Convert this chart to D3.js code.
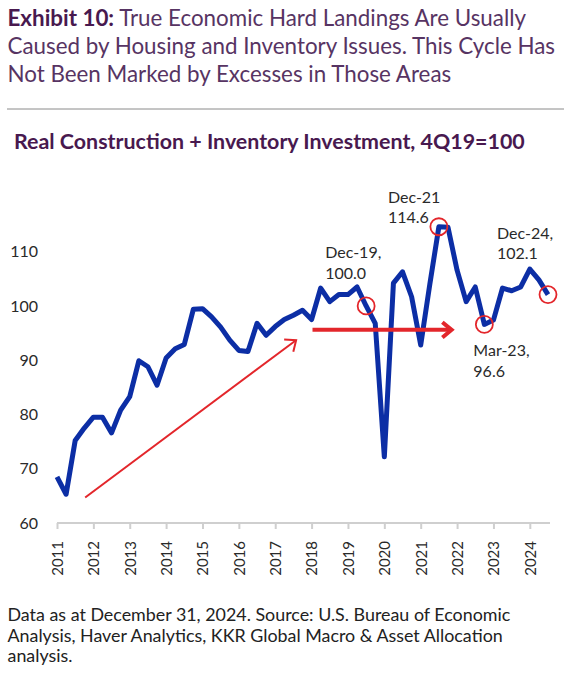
<!DOCTYPE html>
<html>
<head>
<meta charset="utf-8">
<script src="https://cdn.jsdelivr.net/npm/d3@7"></script>
<style>
  html, body { margin: 0; padding: 0; background: #fff; }
  svg { display: block; }
  text { font-family: Lato, "Open Sans", sans-serif; }
</style>
</head>
<body>
<svg id="chart" width="575" height="680"></svg>
<script>
// ---------- DATA ----------
const startYear = 2011, startQuarter = 2; // first observation: 2Q11
const values = [
  68.5, 65.3, 75.2, 77.5, 79.5, 79.5, 76.6, 80.8, 83.3, 89.9,
  88.8, 85.4, 90.4, 92.1, 92.9, 99.4, 99.5, 98.0, 96.1, 93.7,
  91.8, 91.6, 96.8, 94.6, 96.2, 97.5, 98.3, 99.2, 97.5, 103.3,
  100.8, 102.1, 102.1, 103.5, 100.0, 96.8, 72.2, 104.2, 106.3, 101.7,
  92.8, 104.0, 114.6, 114.5, 106.6, 100.8, 103.5, 96.6, 97.4, 103.3,
  102.8, 103.5, 106.8, 104.8, 102.1
];
const quarters = values.map((v, i) => {
  const q = startQuarter - 1 + i;
  return (startYear + Math.floor(q / 4)) + "Q" + (q % 4 + 1);
});
const tickLabels = ["2011","2012","2013","2014","2015","2016","2017","2018","2019","2020","2021","2022","2023","2024"];
const yTicks = [60, 70, 80, 90, 100, 110];

// highlighted points: [quarter, line1, line2, label side]
const highlights = [
  { q: "2019Q4", l1: "Dec-19,", l2: "100.0", pos: "above" },
  { q: "2021Q4", l1: "Dec-21", l2: "114.6", pos: "above" },
  { q: "2023Q1", l1: "Mar-23,", l2: "96.6", pos: "below" },
  { q: "2024Q4", l1: "Dec-24,", l2: "102.1", pos: "above" }
];
// arrows in data units [index, value]
const trendArrow = { from: [3.1, 64.7], to: [26.3, 93.7] };
const flatArrow  = { from: [28.1, 95.6], to: [43.4, 95.6] };

const titleBold = "Exhibit 10:";
const titleLines = [
  " True Economic Hard Landings Are Usually",
  "Caused by Housing and Inventory Issues. This Cycle Has",
  "Not Been Marked by Excesses in Those Areas"
];
const subtitle = "Real Construction + Inventory Investment, 4Q19=100";
const footerLines = [
  "Data as at December 31, 2024. Source: U.S. Bureau of Economic",
  "Analysis, Haver Analytics, KKR Global Macro & Asset Allocation",
  "analysis."
];

// ---------- LAYOUT ----------
const svg = d3.select("#chart");
const purpleBold = "#48194f", purple = "#573463";
const blue = "#0c2ea5", red = "#e3262b";

function fitSize(sel, target, start) {
  sel.attr("font-size", start);
  const w = sel.node().getComputedTextLength();
  sel.attr("font-size", start * target / w);
  return start * target / w;
}

// title
const t1 = svg.append("text").attr("x", 7.5).attr("y", 26).attr("fill", purple);
t1.append("tspan").attr("font-weight", 700).attr("fill", purpleBold).text(titleBold);
t1.append("tspan").text(titleLines[0]);
const t2 = svg.append("text").attr("x", 7.5).attr("y", 54).attr("fill", purple).text(titleLines[1]);
const tsize = fitSize(t2, 548, 20);
t1.attr("font-size", tsize);
const t3 = svg.append("text").attr("x", 7.5).attr("y", 81.5).attr("fill", purple)
  .attr("font-size", tsize).text(titleLines[2]);

svg.append("line").attr("x1", 7).attr("x2", 564).attr("y1", 109).attr("y2", 109)
  .attr("stroke", "#8a8a8a").attr("stroke-width", 1);

const st = svg.append("text").attr("x", 14).attr("y", 149).attr("fill", purpleBold)
  .attr("font-weight", 700).text(subtitle);
fitSize(st, 511, 19.5);

// footer
const fsz = (() => {
  const f = svg.append("text").attr("x", 7.5).attr("y", 621).attr("fill", "#222").text(footerLines[0]);
  return fitSize(f, 503, 15.5);
})();
footerLines.slice(1).forEach((l, i) => {
  svg.append("text").attr("x", 7.5).attr("y", 641.5 + i * 20.3).attr("fill", "#222")
    .attr("font-size", fsz).text(l);
});

// ---------- SCALES ----------
const x = d3.scaleLinear().domain([0, values.length - 1]).range([57, 548]);
const y = d3.scaleLinear().domain([60, 110]).range([523, 251.7]);

// x axis
const xAxis = svg.append("g").attr("transform", `translate(0,${y(60)})`)
  .call(d3.axisBottom(x)
    .tickValues(tickLabels.map((d, i) => i * 4))
    .tickFormat((d, i) => tickLabels[i])
    .tickSize(6).tickSizeOuter(0));
xAxis.select(".domain").attr("stroke", "#cfcfcf").attr("stroke-width", 2)
  .attr("d", `M${x(0)},0H${x(values.length - 1) + 2}`);
xAxis.selectAll(".tick line").attr("stroke", "#cfcfcf").attr("stroke-width", 2);
xAxis.selectAll(".tick text")
  .attr("font-size", 15).attr("fill", "#2a2a2a")
  .attr("text-anchor", "end")
  .attr("transform", "rotate(-90)")
  .attr("x", -18).attr("y", 0).attr("dy", "0.36em").attr("dx", 0);

// y axis labels (no line)
const yAxis = svg.append("g").attr("transform", "translate(38,0)")
  .call(d3.axisLeft(y).tickValues(yTicks).tickSize(0).tickPadding(0));
yAxis.select(".domain").remove();
yAxis.selectAll(".tick text").attr("font-size", 16).attr("fill", "#2a2a2a");

// ---------- LINE ----------
const line = d3.line().x((d, i) => x(i)).y(d => y(d));
svg.append("path").datum(values).attr("d", line)
  .attr("fill", "none").attr("stroke", blue).attr("stroke-width", 5)
  .attr("stroke-linejoin", "round").attr("stroke-linecap", "butt");

// ---------- ARROWS ----------
function arrow(a, width, head) {
  const x1 = x(a.from[0]), y1 = y(a.from[1]), x2 = x(a.to[0]), y2 = y(a.to[1]);
  const ang = Math.atan2(y2 - y1, x2 - x1);
  const g = svg.append("g").attr("stroke", red).attr("fill", "none")
    .attr("stroke-width", width).attr("stroke-linecap", "butt");
  g.append("line").attr("x1", x1).attr("y1", y1).attr("x2", x2 - Math.cos(ang) * width * 0.5).attr("y2", y2 - Math.sin(ang) * width * 0.5);
  const a1 = ang + Math.PI * 0.78, a2 = ang - Math.PI * 0.78;
  g.append("path").attr("stroke-linejoin", "miter")
    .attr("d", `M${x2 + Math.cos(a1) * head},${y2 + Math.sin(a1) * head}L${x2},${y2}L${x2 + Math.cos(a2) * head},${y2 + Math.sin(a2) * head}`);
}
arrow(trendArrow, 2, 12);
arrow(flatArrow, 4, 12);

// ---------- HIGHLIGHTS ----------
const labelOffsets = {
  "2019Q4": [-41, -48],
  "2021Q4": [-51, -24],
  "2023Q1": [-11, 32],
  "2024Q4": [-51, -56]
};
highlights.forEach(h => {
  const i = quarters.indexOf(h.q);
  const cx = x(i), cy = y(values[i]);
  svg.append("circle").attr("cx", cx).attr("cy", cy).attr("r", 8.5)
    .attr("fill", "none").attr("stroke", red).attr("stroke-width", 1.8);
  const off = labelOffsets[h.q];
  const tx = svg.append("text").attr("x", cx + off[0]).attr("y", cy + off[1])
    .attr("font-size", 16).attr("fill", "#2a2a2a");
  tx.append("tspan").attr("x", cx + off[0]).text(h.l1);
  tx.append("tspan").attr("x", cx + off[0]).attr("dy", 20.7).text(h.l2);
});
</script>
</body>
</html>
